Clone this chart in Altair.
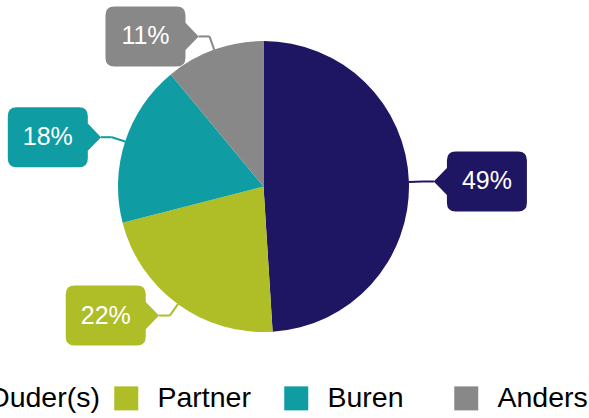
import altair as alt
import pandas as pd

# ---- data ----
categories = ["Ouder(s)", "Partner", "Buren", "Anders"]
values = [49, 22, 18, 11]
colors = ["#1e1563", "#afbd26", "#0f9ca3", "#888888"]

df = pd.DataFrame({"cat": categories, "value": values, "idx": list(range(len(categories)))})

# ---- layout constants (pixels) ----
W, H = 589, 418
CX, CY, R = 263.5, 186.5, 145.5
ELBOW = R + 14      # radius of connector elbow
HSEG = 11           # horizontal connector segment
POINT = 13          # callout pointer depth
HALF_W = 40         # half width of callout box

# callout shapes (unit = 40 px, since symbol scale = sqrt(size)/2)
path_left = ("M -0.78,-0.75 L 0.78,-0.75 Q 1,-0.75 1,-0.53 L 1,0.53 Q 1,0.75 0.78,0.75 "
             "L -0.78,0.75 Q -1,0.75 -1,0.53 L -1,0.34 L -1.33,0 L -1,-0.34 L -1,-0.53 "
             "Q -1,-0.75 -0.78,-0.75 Z")
path_right = ("M 0.78,-0.75 L -0.78,-0.75 Q -1,-0.75 -1,-0.53 L -1,0.53 Q -1,0.75 -0.78,0.75 "
              "L 0.78,0.75 Q 1,0.75 1,0.53 L 1,0.34 L 1.33,0 L 1,-0.34 L 1,-0.53 "
              "Q 1,-0.75 0.78,-0.75 Z")

FONT = "Liberation Sans"

color_scale = alt.Scale(domain=categories, range=colors)

base = alt.Chart(df)

pie = base.mark_arc(outerRadius=R, strokeWidth=0).encode(
    theta=alt.Theta("value:Q", stack=True),
    order=alt.Order("idx:Q"),
    color=alt.Color(
        "cat:N", scale=color_scale, sort=categories,
        legend=alt.Legend(
            orient="none", legendX=-58, legendY=384, direction="horizontal",
            columns=4, title=None, symbolType="square", symbolSize=576,
            symbolStrokeWidth=0, symbolOpacity=1, labelFontSize=28.5,
            labelFont=FONT, labelColor="black", labelOffset=17,
            columnPadding=12, gridAlign="all", padding=0,
        ),
    ),
    x=alt.value(CX),
    y=alt.value(CY),
)

geo = (
    base.transform_joinaggregate(total="sum(value)")
    .transform_window(cum="sum(value)", sort=[alt.SortField("idx")], frame=[None, 0])
    .transform_calculate(ang="2*PI*(datum.cum - datum.value/2)/datum.total")
    .transform_calculate(sx="sin(datum.ang)")
    .transform_calculate(cy="cos(datum.ang)")
    .transform_calculate(side="datum.sx >= 0 ? 1 : -1")
    .transform_calculate(shp="datum.sx >= 0 ? 'L' : 'R'")
    .transform_calculate(ex=f"{CX} + {R}*datum.sx")
    .transform_calculate(ey=f"{CY} - {R}*datum.cy")
    .transform_calculate(bx=f"{CX} + {ELBOW}*datum.sx")
    .transform_calculate(by=f"{CY} - {ELBOW}*datum.cy")
    .transform_calculate(tx=f"datum.bx + datum.side*{HSEG}")
    .transform_calculate(boxx=f"datum.tx + datum.side*{POINT + HALF_W}")
    .transform_calculate(label="datum.value + '%'")
)

col_nolegend = alt.Color("cat:N", scale=color_scale, sort=categories, legend=None)

rule1 = geo.mark_rule(strokeWidth=2).encode(
    x=alt.X("ex:Q", scale=None, axis=None),
    y=alt.Y("ey:Q", scale=None, axis=None),
    x2="bx:Q",
    y2="by:Q",
    color=col_nolegend,
)

rule2 = geo.mark_rule(strokeWidth=2).encode(
    x=alt.X("bx:Q", scale=None, axis=None),
    y=alt.Y("by:Q", scale=None, axis=None),
    x2="tx:Q",
    y2="by:Q",
    color=col_nolegend,
)

boxes = geo.mark_point(filled=True, size=6400, opacity=1, strokeWidth=0).encode(
    x=alt.X("boxx:Q", scale=None, axis=None),
    y=alt.Y("by:Q", scale=None, axis=None),
    color=col_nolegend,
    shape=alt.Shape("shp:N", scale=alt.Scale(domain=["L", "R"], range=[path_left, path_right]), legend=None),
)

texts = geo.mark_text(color="white", fontSize=25, font=FONT, align="center", baseline="middle").encode(
    x=alt.X("boxx:Q", scale=None, axis=None),
    y=alt.Y("by:Q", scale=None, axis=None),
    text="label:N",
)

chart = (
    alt.layer(pie, rule1, rule2, boxes, texts)
    .properties(width=W, height=H, autosize=alt.AutoSizeParams(type="none"), padding=0, background="white")
    .configure_view(stroke=None)
)

chart.save("out.html", embed_options={"renderer": "svg", "actions": False})
